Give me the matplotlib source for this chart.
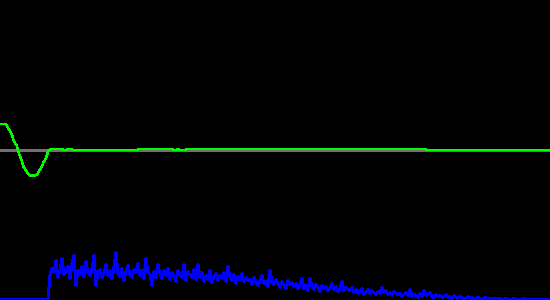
import numpy as np
import matplotlib
matplotlib.use('Agg')
import matplotlib.pyplot as plt

# waveform: sample index -> amplitude (full scale = +-1)
wave_t = [0, 5, 7, 8, 10, 12, 13, 15, 17, 18, 20, 22, 23, 25, 27, 28, 30, 35,
          37, 38, 40, 42, 43, 45, 47, 48, 50, 52, 62, 63, 66, 67, 71, 72,
          137, 138, 172, 173, 176, 177, 178, 179, 185, 186, 425, 426, 549]
wave_v = [0.173, 0.173, 0.162, 0.147, 0.125, 0.102, 0.073, 0.047, 0.025,
          -0.002, -0.042, -0.075, -0.105, -0.127, -0.147, -0.158, -0.171,
          -0.171, -0.165, -0.149, -0.131, -0.109, -0.087, -0.065, -0.035,
          -0.007, 0.002, 0.007, 0.007, 0.0, 0.0, 0.007, 0.007, 0.0,
          0.0, 0.007, 0.007, 0.0, 0.0, 0.007, 0.007, 0.0, 0.0, 0.007,
          0.007, 0.0, 0.0]

# spectrum magnitudes, one per bin (first 25 bins empty)
spec_low = [0] * 25
spec = spec_low + [
    24, 31, 28, 39, 22, 30, 41, 25, 27, 33, 21, 36, 44, 14, 29, 26, 33, 23, 38, 27, 24, 31, 44, 14, 28,
    30, 22, 27, 35, 24, 29, 21, 33, 47, 26, 23, 31, 19, 28, 34, 25, 22, 30, 27, 36, 24, 29, 21, 41, 27,
    25, 14, 28, 22, 35, 26, 21, 29, 24, 31, 20, 27, 23, 18, 29, 25, 22, 35, 19, 28, 24, 22, 30, 20, 35,
    22, 27, 18, 24, 20, 29, 17, 23, 26, 19, 24, 21, 27, 18, 33, 22, 19, 25, 16, 23, 20, 26, 18, 22, 19,
    20, 15, 22, 17, 14, 19, 24, 16, 18, 13, 29, 17, 15, 20, 16, 12, 18, 14, 11, 19, 15, 17, 13, 16, 11,
    15, 21, 11, 14, 9, 21, 13, 10, 15, 12, 8, 14, 11, 13, 9, 12, 16, 10, 13, 8, 11, 18, 9, 12, 10,
    9, 12, 7, 10, 6, 9, 11, 5, 8, 10, 6, 9, 7, 5, 8, 6, 12, 7, 9, 5, 7, 4, 8, 6, 5,
    6, 3, 5, 7, 4, 10, 3, 5, 4, 2, 6, 3, 9, 4, 5, 7, 3, 2, 5, 3, 4, 2, 3, 5, 2,
    3, 1, 4, 2, 1, 3, 2, 0, 1, 3, 1, 2, 0, 1, 2, 1, 0, 1, 2, 0, 1, 0, 1, 0, 1,
    1, 0, 0, 1, 0, 0, 0, 1, 0, 0, 0, 0, 1, 0, 0, 0, 0, 0, 0, 0, 0, 0, 0, 0, 0,
]
bins = np.arange(len(spec))

fig = plt.figure(figsize=(5.5, 3), dpi=100, facecolor='black')

# spectrum (bottom)
ax_s = fig.add_axes([0, 0, 1, 1])
ax_s.set_facecolor('black')
ax_s.plot(bins, spec, color='#0000ff', linewidth=1.4, antialiased=False)
ax_s.set_xlim(0, len(spec))
ax_s.set_ylim(-0.5, 299.5)
ax_s.axis('off')

# waveform (middle)
ax_w = fig.add_axes([0, 0, 1, 1])
ax_w.patch.set_alpha(0)
ax_w.axhline(0, color='#707070', linewidth=1.0, antialiased=False)
ax_w.plot(wave_t, wave_v, color='#00ff00', linewidth=1.0, antialiased=False)
ax_w.set_xlim(0, 549)
ax_w.set_ylim(-1, 1)
ax_w.axis('off')

plt.savefig('out.png', dpi=100, facecolor='black')
